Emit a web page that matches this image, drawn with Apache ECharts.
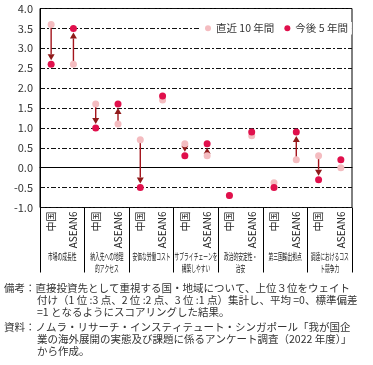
<!DOCTYPE html>
<html><head><meta charset="utf-8">
<script src="https://cdn.jsdelivr.net/npm/echarts@6/dist/echarts.min.js"></script>
<style>html,body{margin:0;padding:0;background:#fff}#c{width:373px;height:365px}</style>
</head><body><div id="c"></div>
<script>
var groups = ['市場の成長性','納入先への地理\n的アクセス','安価な労働コスト','サプライチェーンを\n構築しやすい','政治的安定性・\n治安','第三国輸出拠点','調達におけるコス\nト競争力'];
var regions = ['中国','ASEAN6'];
// order: group1 中国, group1 ASEAN6, group2 中国, ...
var recent10 = [3.6, 2.6, 1.6, 1.1, 0.7, 1.7, 0.6, 0.3, -0.7, 0.8, -0.38, 0.2, 0.3, 0.0];
var next5    = [2.6, 3.5, 1.0, 1.6, -0.5, 1.8, 0.3, 0.6, -0.7, 0.9, -0.5, 0.9, -0.3, 0.2];
var hasArrow = [1, 1, 1, 1, 1, 0, 1, 1, 0, 0, 0, 1, 1, 0];
var yTicks = [-1, 4, 0.5];
var noteLines = [
  '備考：直接投資先として重視する国・地域について、上位３位をウェイト',
  '付け（1 位 :3 点、2 位 :2 点、3 位 :1 点）集計し、平均 =0、標準偏差',
  '=1 となるようにスコアリングした結果。',
  '資料：ノムラ・リサーチ・インスティテュート・シンガポール「我が国企',
  '業の海外展開の実態及び課題に係るアンケート調査（2022 年度）」',
  'から作成。'
];

var xCats = [];
groups.forEach(function(g, gi){ regions.forEach(function(r){ xCats.push(gi + '|' + r); }); });
var lightData = recent10.map(function(v, i){ return [i, v]; });
var darkData = next5.map(function(v, i){ return [i, v]; });
var arrowData = [];
recent10.forEach(function(v, i){ if (hasArrow[i]) arrowData.push([i, v, next5[i]]); });

var FONT = '"Noto Sans CJK JP", "Noto Sans", sans-serif';
var chart = echarts.init(document.getElementById('c'), null, {renderer: 'canvas'});
var gridDash = [5, 2, 2, 2];
chart.setOption({
  animation: false,
  textStyle: {fontFamily: FONT},
  grid: {left: 40, right: 21, top: 8.5, bottom: 157.5, show: true, borderColor: '#000', borderWidth: 1, backgroundColor: 'transparent'},
  legend: {
    data: ['直近 10 年間', '今後 5 年間'],
    left: 201, top: 22, backgroundColor: '#fff', padding: [1, 4, 1, 4],
    icon: 'circle', itemWidth: 6, itemHeight: 6, itemGap: 10,
    textStyle: {fontSize: 10.5, color: '#333', fontFamily: FONT}
  },
  xAxis: [{
    type: 'category', data: xCats, boundaryGap: true,
    axisLine: {show: true, lineStyle: {color: '#000', width: 1}},
    axisTick: {show: false},
    axisLabel: {rotate: 90, margin: 4, fontSize: 10, color: '#222', fontFamily: FONT,
      formatter: function(v){ return v.split('|')[1]; }, interval: 0},
    splitLine: {show: false}
  }, {
    type: 'category', data: groups, boundaryGap: true, position: 'bottom',
    axisLine: {show: false},
    axisTick: {show: true, interval: 0, length: 65, lineStyle: {color: '#000', width: 1}},
    axisLabel: {show: true, interval: 0, color: 'rgba(0,0,0,0)', fontSize: 1, formatter: function(){ return ''; }},
    splitLine: {show: false}
  }],
  yAxis: {
    type: 'value', min: yTicks[0], max: yTicks[1], interval: yTicks[2],
    axisLine: {show: true, lineStyle: {color: '#000', width: 1}},
    axisTick: {show: false},
    axisLabel: {fontSize: 11, color: '#333', margin: 7, fontFamily: FONT,
      formatter: function(v){ return v.toFixed(1); }},
    splitLine: {show: true, lineStyle: {color: '#111', width: 1, type: gridDash}}
  },
  series: [{
    type: 'custom', name: 'arrows', xAxisIndex: 0, z: 1,
    data: arrowData,
    renderItem: function(params, api){
      var x = api.value(0);
      var p1 = api.coord([x, api.value(1)]);
      var p2 = api.coord([x, api.value(2)]);
      var d = p2[1] > p1[1] ? 1 : -1;
      var tip = p2[1] - d * 4;
      var base = tip - d * 6;
      return {type: 'group', children: [
        {type: 'line', shape: {x1: p1[0], y1: p1[1], x2: p1[0], y2: base}, style: {stroke: '#a3141c', lineWidth: 1.4}},
        {type: 'polygon', shape: {points: [[p1[0] - 3.5, base], [p1[0] + 3.5, base], [p1[0], tip]]}, style: {fill: '#8f1a1a'}}
      ]};
    }
  }, {
    type: 'scatter', name: '直近 10 年間', data: lightData, symbolSize: 7, z: 2,
    itemStyle: {color: '#f4bcc0', opacity: 1}
  }, {
    type: 'scatter', name: '今後 5 年間', data: darkData, symbolSize: 7, z: 3,
    itemStyle: {color: '#e0104c', opacity: 1}
  }]
});

var graphics = [];
groups.forEach(function(g, gi){
  var a = chart.convertToPixel({xAxisIndex: 0}, gi * 2);
  var b = chart.convertToPixel({xAxisIndex: 0}, gi * 2 + 1);
  var cx = (a + b) / 2;
  g.split('\n').forEach(function(line, li){
    graphics.push({type: 'text', x: cx, y: 256 + li * 12, scaleX: 0.5, scaleY: 1,
      style: {text: line, align: 'center', verticalAlign: 'middle', fontSize: 9.5, fill: '#222', fontFamily: FONT}});
  });
});
var noteY = [288, 300, 312, 327, 339, 351];
var noteX = [4, 37, 37, 4, 37, 37];
noteLines.forEach(function(t, i){
  graphics.push({type: 'text', x: noteX[i], y: noteY[i],
    style: {text: t, align: 'left', verticalAlign: 'middle', fontSize: 10.5, fill: '#333', fontFamily: FONT}});
});
chart.setOption({graphic: graphics});
</script></body></html>
